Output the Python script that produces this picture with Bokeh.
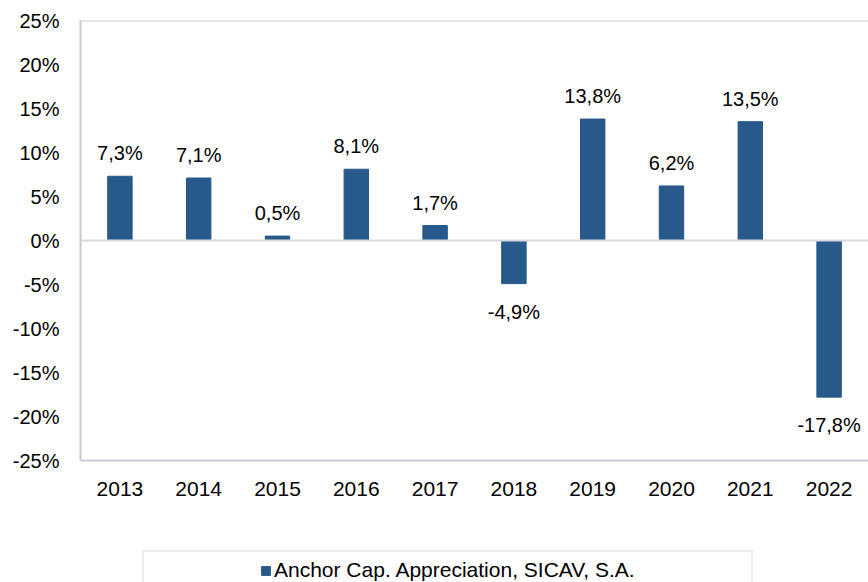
from bokeh.plotting import figure
from bokeh.layouts import column
from bokeh.models import ColumnDataSource, LabelSet, Span, Legend, LegendItem, FixedTicker, FactorRange, CustomJSTickFormatter, Range1d
from bokeh.core.properties import value
from bokeh.embed import file_html
from bokeh.resources import INLINE

years = ["2013", "2014", "2015", "2016", "2017", "2018", "2019", "2020", "2021", "2022"]
returns = [7.3, 7.1, 0.5, 8.1, 1.7, -4.9, 13.8, 6.2, 13.5, -17.8]
series_name = "Anchor Cap. Appreciation, SICAV, S.A."
y_ticks = [-25, -20, -15, -10, -5, 0, 5, 10, 15, 20, 25]

BAR = "#27598a"
FONT = "Liberation Sans"

labels = [("%.1f" % v).replace(".", ",") + "%" for v in returns]
src = ColumnDataSource(dict(x=years, top=returns, label=labels))
pos = ColumnDataSource(dict(x=[x for x, v in zip(years, returns) if v >= 0],
                            y=[v for v in returns if v >= 0],
                            label=[l for l, v in zip(labels, returns) if v >= 0]))
neg = ColumnDataSource(dict(x=[x for x, v in zip(years, returns) if v < 0],
                            y=[v for v in returns if v < 0],
                            label=[l for l, v in zip(labels, returns) if v < 0]))

p = figure(width=868, height=545, x_range=FactorRange(*years), y_range=(-25, 25),
           output_backend="svg", toolbar_location=None,
           min_border_left=80, min_border_right=0, min_border_top=20, min_border_bottom=85)
p.outline_line_color = None
p.xgrid.visible = False
p.ygrid.visible = False

bars = p.vbar(x="x", top="top", bottom=0, width=0.31, source=src,
              fill_color=BAR, line_color=BAR)

p.add_layout(Span(location=0, dimension="width", line_color="#d9d9d9", line_width=2))
p.add_layout(Span(location=25, dimension="width", line_color="#cacad4", line_width=2))

p.yaxis.ticker = FixedTicker(ticks=y_ticks)
p.yaxis.formatter = CustomJSTickFormatter(code="return tick + '%';")
for ax in (p.xaxis[0], p.yaxis[0]):
    ax.axis_line_color = "#cacad4"
    ax.axis_line_width = 2
    ax.major_tick_line_color = None
    ax.minor_tick_line_color = None
    ax.major_label_text_font = FONT
    ax.major_label_text_font_size = "20px"
    ax.major_label_text_color = "#000000"
p.xaxis.major_label_text_font_size = "21px"
p.yaxis.major_label_standoff = 15
p.xaxis.major_label_standoff = 15

p.add_layout(LabelSet(x="x", y="y", text="label", source=pos, text_align="center",
                      text_baseline="bottom", y_offset=12, text_font=value(FONT),
                      text_font_size="20px", text_color="#000000"))
p.add_layout(LabelSet(x="x", y="y", text="label", source=neg, text_align="center",
                      text_baseline="top", y_offset=-17, text_font=value(FONT),
                      text_font_size="20px", text_color="#000000"))

# legend strip below the chart (frame aligned with the chart above)
q = figure(width=868, height=37, output_backend="svg", toolbar_location=None,
           x_axis_type=None, y_axis_type=None, x_range=Range1d(0, 1), y_range=Range1d(0, 1),
           min_border=0, min_border_left=0, min_border_right=0, min_border_top=0, min_border_bottom=0)
q.outline_line_color = None
q.grid.visible = False
key = q.vbar(x=[5], top=[5], width=0.3, fill_color=BAR, line_color=BAR)
ghost = q.vbar(x=[5], top=[5], width=0.3, fill_alpha=0, line_alpha=0)

legend = Legend(items=[LegendItem(label=" ", renderers=[ghost]),
                       LegendItem(label=series_name, renderers=[key]),
                       LegendItem(label=" ", renderers=[ghost])],
                orientation="horizontal", location=(62, -8),
                padding=6, spacing=0, margin=0, glyph_width=11, glyph_height=11,
                label_standoff=3, label_width=96,
                label_text_font=FONT, label_text_font_size="21px", label_text_color="#000000",
                border_line_color="#d9d9d9", border_line_width=2,
                background_fill_color="white", background_fill_alpha=1)
q.add_layout(legend, "center")

layout = column(p, q, spacing=0)
open("out.html", "w").write(file_html(layout, INLINE))
